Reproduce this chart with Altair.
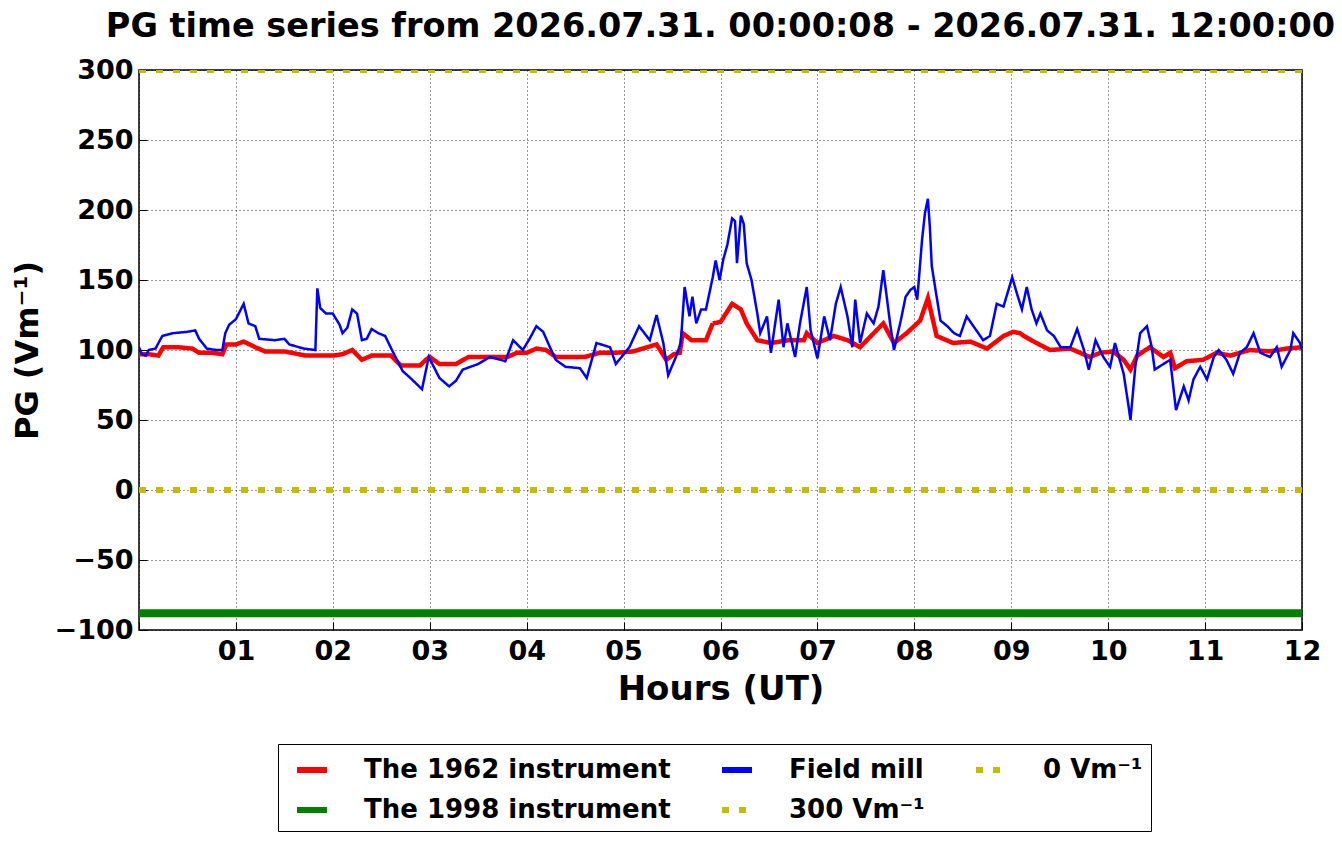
import altair as alt
import pandas as pd

# ---- data ----
blue_hours = [0.00, 0.03, 0.07, 0.10, 0.17, 0.24, 0.35, 0.50, 0.58, 0.62, 0.70, 0.80, 0.86, 0.89, 0.93,
              1.00, 1.08, 1.13, 1.20, 1.24, 1.40, 1.50, 1.55, 1.70, 1.82, 1.84, 1.87, 1.93, 2.00, 2.07,
              2.10, 2.15, 2.20, 2.25, 2.30, 2.35, 2.40, 2.47, 2.54, 2.61, 2.72, 2.80, 2.92, 2.99, 3.10,
              3.20, 3.27, 3.34, 3.50, 3.62, 3.78, 3.86, 3.96, 4.03, 4.10, 4.17, 4.24, 4.30, 4.40, 4.55,
              4.62, 4.72, 4.86, 4.92, 5.06, 5.16, 5.27, 5.34, 5.41, 5.46, 5.54, 5.59, 5.63, 5.68, 5.71,
              5.75, 5.80, 5.85, 5.92, 5.95, 5.99, 6.03, 6.07, 6.12, 6.15, 6.17, 6.21, 6.24, 6.27, 6.32,
              6.38, 6.41, 6.48, 6.52, 6.60, 6.65, 6.69, 6.77, 6.82, 6.89, 6.93, 7.00, 7.07, 7.13, 7.19,
              7.24, 7.31, 7.36, 7.39, 7.44, 7.51, 7.58, 7.63, 7.68, 7.75, 7.79, 7.86, 7.91, 7.96, 8.00,
              8.03, 8.08, 8.11, 8.14, 8.16, 8.18, 8.23, 8.27, 8.34, 8.41, 8.47, 8.54, 8.61, 8.71, 8.78,
              8.85, 8.92, 9.01, 9.06, 9.11, 9.16, 9.21, 9.26, 9.30, 9.37, 9.44, 9.51, 9.61, 9.68, 9.75,
              9.80, 9.87, 9.95, 10.02, 10.07, 10.16, 10.21, 10.23, 10.28, 10.33, 10.40, 10.45, 10.48, 10.57, 10.64,
              10.70, 10.78, 10.83, 10.88, 10.95, 11.02, 11.09, 11.14, 11.22, 11.29, 11.36, 11.43, 11.50, 11.57, 11.67,
              11.74, 11.79, 11.88, 11.91, 11.98, 12.00]
blue_vals = [102, 97, 96, 100, 101, 110, 112, 113, 114, 108, 101, 100, 100, 112, 118,
             122, 133, 119, 117, 108, 107, 108, 104, 101, 100, 144, 130, 126, 126, 118,
             112, 116, 129, 126, 107, 108, 115, 112, 110, 100, 85, 80, 72, 95, 80,
             74, 78, 86, 90, 95, 92, 107, 100, 108, 117, 113, 102, 93, 88, 87,
             80, 105, 102, 90, 102, 117, 107, 125, 105, 82, 95, 105, 145, 124, 138,
             119, 129, 129, 152, 164, 150, 165, 175, 194, 192, 162, 196, 190, 162, 150,
             126, 112, 124, 98, 136, 102, 119, 95, 119, 145, 114, 94, 124, 107, 133,
             145, 124, 102, 136, 105, 126, 119, 131, 157, 119, 100, 121, 138, 143, 145,
             136, 179, 198, 208, 188, 160, 138, 121, 117, 112, 110, 124, 117, 107, 110,
             133, 131, 152, 140, 129, 145, 129, 119, 126, 114, 110, 102, 102, 115, 100,
             86, 107, 95, 88, 105, 83, 60, 50, 88, 112, 117, 102, 86, 90, 93,
             57, 74, 64, 79, 88, 79, 95, 100, 93, 83, 98, 102, 112, 98, 95,
             102, 88, 100, 112, 105, 100]

red_hours = [0.00, 0.10, 0.20, 0.25, 0.40, 0.55, 0.62, 0.75, 0.86, 0.90, 1.00, 1.08, 1.20, 1.30, 1.50,
             1.72, 2.00, 2.10, 2.20, 2.30, 2.40, 2.60, 2.70, 2.90, 2.96, 3.00, 3.10, 3.27, 3.40, 3.80,
             3.90, 4.00, 4.10, 4.20, 4.30, 4.60, 4.75, 4.92, 5.10, 5.34, 5.44, 5.52, 5.58, 5.61, 5.70,
             5.85, 5.92, 6.00, 6.12, 6.21, 6.27, 6.38, 6.52, 6.70, 6.86, 6.89, 7.00, 7.17, 7.31, 7.44,
             7.68, 7.79, 7.92, 8.06, 8.14, 8.23, 8.40, 8.58, 8.75, 8.92, 9.02, 9.09, 9.13, 9.26, 9.40,
             9.61, 9.81, 9.92, 10.05, 10.16, 10.23, 10.30, 10.43, 10.57, 10.64, 10.69, 10.81, 10.98, 11.12, 11.26,
             11.46, 11.67, 11.84, 12.00]
red_vals = [97, 97, 96, 102, 102, 101, 98, 98, 97, 104, 104, 106, 102, 99, 99,
            96, 96, 97, 100, 93, 96, 96, 89, 89, 93, 95, 90, 90, 95, 95,
            98, 98, 101, 100, 95, 95, 98, 98, 99, 104, 93, 97, 98, 112, 107,
            107, 119, 120, 133, 129, 119, 107, 105, 107, 107, 112, 105, 110, 107, 102,
            119, 105, 112, 121, 137, 110, 105, 106, 101, 110, 113, 112, 110, 105, 100,
            101, 95, 98, 99, 93, 86, 96, 102, 95, 98, 87, 92, 93, 98, 96,
            100, 99, 101, 102]

green_level = -88
line_300 = 300
line_0 = 0

series_names = ["The 1962 instrument", "Field mill", "0 Vm\u207b\u00b9",
                "The 1998 instrument", "300 Vm\u207b\u00b9"]
series_colors = ["#ff0000", "#0000ff", "#bfbf00", "#008000", "#bfbf00"]
series_dash = [[1, 0], [1, 0], [7, 10], [1, 0], [7, 10]]

red_df = pd.DataFrame({"hour": red_hours, "pg": red_vals, "series": series_names[0]})
blue_df = pd.DataFrame({"hour": blue_hours, "pg": blue_vals, "series": series_names[1]})
zero_df = pd.DataFrame({"hour": [0, 12], "pg": [line_0, line_0], "series": series_names[2]})
green_df = pd.DataFrame({"hour": [0, 12], "pg": [green_level, green_level], "series": series_names[3]})
top_df = pd.DataFrame({"hour": [0, 12], "pg": [line_300, line_300], "series": series_names[4]})

FONT = "DejaVu Sans"

x_enc = alt.X("hour:Q",
              scale=alt.Scale(domain=[0, 12], nice=False),
              axis=alt.Axis(values=list(range(0, 13)),
                            labelExpr="datum.value == 0 ? '' : (datum.value < 10 ? '0' + datum.value : '' + datum.value)",
                            title="Hours (UT)", titleFontSize=34, titlePadding=8,
                            labelFontSize=27, labelPadding=8, tickSize=8, offset=-8,
                            domain=False, grid=True, gridDash=[1, 3], gridColor="#000000",
                            gridOpacity=0.8, tickColor="#000000", labelFlush=False))
y_enc = alt.Y("pg:Q",
              scale=alt.Scale(domain=[-100, 300], nice=False),
              axis=alt.Axis(values=list(range(-100, 301, 50)),
                            title="PG (Vm\u207b\u00b9)", titleFontSize=32, titlePadding=10,
                            labelFontSize=27, labelPadding=6, tickSize=8, offset=-8,
                            domain=False, grid=True, gridDash=[1, 3], gridColor="#000000",
                            gridOpacity=0.8, tickColor="#000000"))
color_enc = alt.Color("series:N",
                      scale=alt.Scale(domain=series_names, range=series_colors),
                      legend=alt.Legend(orient="none", legendX=139, legendY=674,
                                        columns=3, direction="horizontal",
                                        title=None, symbolType="stroke", symbolSize=900,
                                        symbolStrokeWidth=6, symbolOffset=8, labelFontSize=26,
                                        labelFont=FONT, labelFontWeight="bold",
                                        labelOffset=34, columnPadding=39, rowPadding=9,
                                        padding=8, strokeColor="#000000", fillColor="#ffffff",
                                        labelLimit=500))
dash_enc = alt.StrokeDash("series:N",
                          scale=alt.Scale(domain=series_names, range=series_dash),
                          legend=None)

def layer(df, width):
    return alt.Chart(df).mark_line(strokeWidth=width, clip=True).encode(
        x=x_enc, y=y_enc, color=color_enc, strokeDash=dash_enc)

chart = alt.layer(
    layer(red_df, 4.5),
    layer(green_df, 8),
    layer(blue_df, 2.5),
    layer(top_df, 6),
    layer(zero_df, 6),
).properties(
    width=1163, height=560,
    title=alt.TitleParams("PG time series from 2026.07.31. 00:00:08 - 2026.07.31. 12:00:00",
                          fontSize=33.5, font=FONT, fontWeight="bold", anchor="middle", offset=12),
    autosize=alt.AutoSizeParams(type="none"),
    padding={"left": 131, "top": 62, "right": 32, "bottom": 206},
).configure(font=FONT).configure_axis(
    labelFont=FONT, labelFontWeight="bold", titleFont=FONT, titleFontWeight="bold",
    labelColor="#000000", titleColor="#000000"
).configure_view(stroke="#000000", strokeWidth=1.5)

chart.save("out.html", embed_options={"renderer": "svg", "actions": False})
